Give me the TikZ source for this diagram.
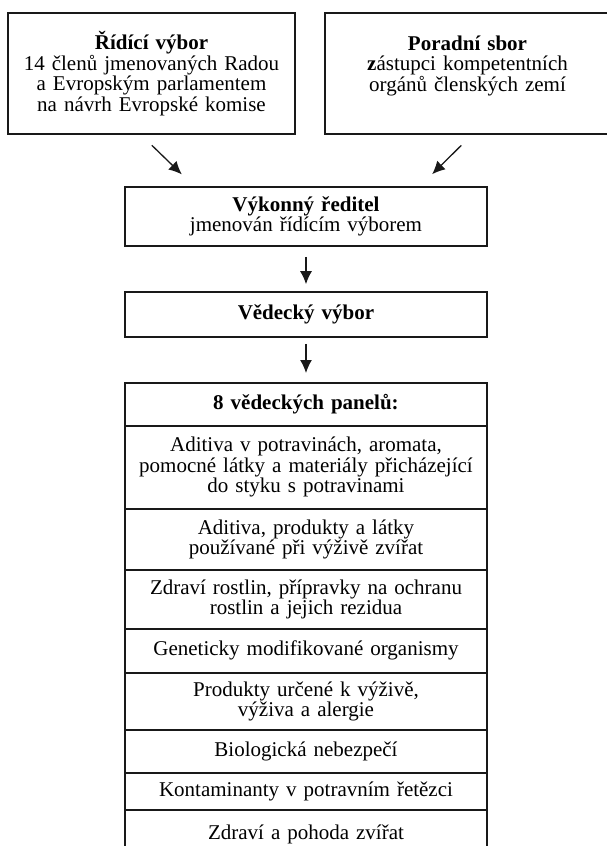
\documentclass[tikz,border=0pt]{standalone}
\usepackage{fontspec}
\setmainfont{Liberation Serif}
\usetikzlibrary{arrows.meta}

\begin{document}
\begin{tikzpicture}[x=1pt, y=-1pt,
    font=\fontsize{21}{20.5}\selectfont,
    box/.style={draw=black!90, line width=1.6pt, inner sep=0pt, align=center},
    arr/.style={-{Latex[length=13pt, width=12pt]}, line width=1.3pt, black!90}]
    \useasboundingbox (0,0) rectangle (607,846);
    \clip (0,0) rectangle (607,846);

    \node[box, text width=287pt, minimum height=121pt] (ridici) at (151.5,73.5)
        {\textbf{Řídící výbor}\\14 členů jmenovaných Radou\\a Evropským parlamentem\\na návrh Evropské komise};
    \node[box, text width=285pt, minimum height=121pt] (poradni) at (467.5,73.5)
        {\textbf{Poradní sbor}\\\textbf{z}ástupci kompetentních\\orgánů členských zemí\\\mbox{}};
    \node[box, text width=362pt, minimum height=59pt] (vykonny) at (306,216.5)
        {\textbf{Výkonný ředitel}\\jmenován řídícím výborem};
    \node[box, text width=362pt, minimum height=45pt] (vedecky) at (306,314.5)
        {\textbf{Vědecký výbor}};

    \foreach \n/\y/\h/\t in {
        0/382/43/{\textbf{8 vědeckých panelů:}},
        1/425/83/{Aditiva v potravinách, aromata,\\pomocné látky a materiály přicházející\\do styku s potravinami},
        2/508/61/{Aditiva, produkty a látky\\používané při výživě zvířat},
        3/569/59/{Zdraví rostlin, přípravky na ochranu\\rostlin a jejich rezidua},
        4/628/44/{Geneticky modifikované organismy},
        5/672/57/{Produkty určené k výživě,\\výživa a alergie},
        6/729/43/{Biologická nebezpečí},
        7/772/37/{Kontaminanty v potravním řetězci},
        8/809/50/{Zdraví a pohoda zvířat}}
    {
        \node[box, text width=362pt, minimum height=\h, anchor=north] (panel\n) at (306,\y) {\t};
    }

    \draw[arr, shorten <=15pt, shorten >=17pt] ([xshift=-10.5pt]ridici.south) -- ([xshift=-112pt]vykonny.north);
    \draw[arr, shorten <=15pt, shorten >=17pt] ([xshift=4.5pt]poradni.south) -- ([xshift=114pt]vykonny.north);
    \draw[arr, shorten <=10pt, shorten >=7pt] (vykonny) -- (vedecky);
    \draw[arr, shorten <=6pt, shorten >=9pt] (vedecky) -- (panel0);
\end{tikzpicture}
\end{document}
